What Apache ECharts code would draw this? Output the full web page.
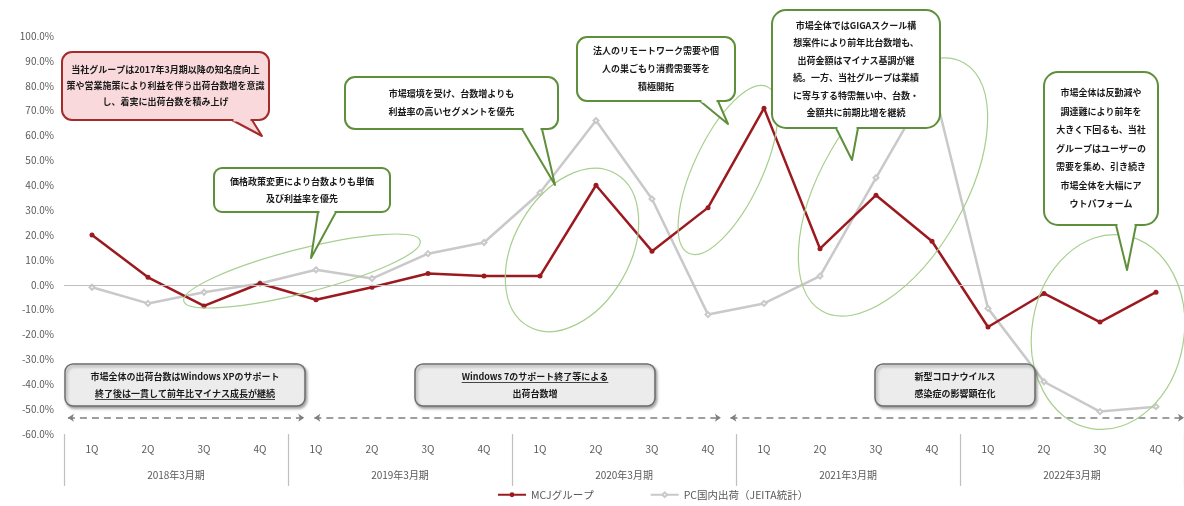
<!DOCTYPE html>
<html><head><meta charset="utf-8">
<script src="https://cdn.jsdelivr.net/npm/echarts@6/dist/echarts.min.js"></script>
<style>html,body{margin:0;padding:0;background:#fff}#c{width:1184px;height:506px}</style>
</head><body><div id="c"></div>
<script>
const quarters = ['1Q','2Q','3Q','4Q','1Q','2Q','3Q','4Q','1Q','2Q','3Q','4Q','1Q','2Q','3Q','4Q','1Q','2Q','3Q','4Q'];
const fiscalYears = ['2018年3月期','2019年3月期','2020年3月期','2021年3月期','2022年3月期'];
const seriesNames = ['MCJグループ','PC国内出荷（JEITA統計）'];
const mcj = [20, 3, -8.5, 0.5, -6, -1, 4.5, 3.5, 3.5, 40, 13.5, 31, 71, 14.5, 36, 17.5, -17, -3.5, -15, -3];
const pc  = [-1, -7.5, -3, 0.5, 6, 2.5, 12.5, 17, 37, 66, 34.5, -12, -7.5, 3.5, 43, 82, -9.5, -39, -51, -49];
const targetLevel = 56;
const periodLevel = -53.5;
const periodSpans = [[-0.43, 3.79], [3.97, 11.23], [11.4, 19.5]];
const noteTexts = [
  '当社グループは2017年3月期以降の知名度向上\n策や営業施策により利益を伴う出荷台数増を意識\nし、着実に出荷台数を積み上げ',
  '価格政策変更により台数よりも単価\n及び利益率を優先',
  '市場環境を受け、台数増よりも\n利益率の高いセグメントを優先',
  '法人のリモートワーク需要や個\n人の巣ごもり消費需要等を\n積極開拓',
  '市場全体ではGIGAスクール構\n想案件により前年比台数増も、\n出荷金額はマイナス基調が継\n続。一方、当社グループは業績\nに寄与する特需無い中、台数・\n金額共に前期比増を継続',
  '市場全体は反動減や\n調達難により前年を\n大きく下回るも、当社\nグループはユーザーの\n需要を集め、引き続き\n市場全体を大幅にア\nウトパフォーム'
];
const periodTexts = [
  '市場全体の出荷台数はWindows XPのサポート\n終了後は一貫して前年比マイナス成長が継続',
  'Windows 7のサポート終了等による\n出荷台数増',
  '新型コロナウイルス\n感染症の影響顕在化'
];

const FONT = '"Noto Sans CJK JP", "Noto Sans", sans-serif';
const GREEN = '#5e8f3a', RED = '#a52a2a';
const measureCtx = document.createElement('canvas').getContext('2d');
function textWidth(t, font) { measureCtx.font = font; return measureCtx.measureText(t).width; }

function bubble(b, text) {
  const els = [];
  els.push({type:'rect', z:10, shape:{x:b.x,y:b.y,width:b.w,height:b.h,r:b.r},
    style:{fill:b.fill, stroke:b.stroke, lineWidth:2}});
  if (b.tail) {
    els.push({type:'polygon', z:11, shape:{points:b.tail},
      style:{fill:b.fill, stroke:b.stroke, lineWidth:2, lineJoin:'round'}});
    els.push({type:'line', z:12, shape:{x1:b.tail[0][0]+1.5,y1:b.tail[0][1],x2:b.tail[1][0]-1.5,y2:b.tail[1][1]},
      style:{stroke:b.fill, lineWidth:3}});
  }
  els.push({type:'text', z:13, x:b.x+b.w/2, y:b.y+b.h/2,
    style:{text:text, fill:'#1a1a1a', font:'bold '+b.fs+'px '+FONT, align:'center', verticalAlign:'middle', lineHeight:b.lh}});
  return els;
}
function grayBox(b, text, underlineLine) {
  const font = 'bold 9px ' + FONT;
  const els = [
    {type:'rect', z:10, shape:{x:b.x,y:b.y,width:b.w,height:b.h,r:8},
      style:{fill:'#ececec', stroke:'#6e6e6e', lineWidth:1.5, shadowBlur:3, shadowOffsetX:1.5, shadowOffsetY:2, shadowColor:'rgba(0,0,0,0.35)'}},
    {type:'text', z:13, x:b.x+b.w/2, y:b.y+b.h/2,
      style:{text:text, fill:'#1a1a1a', font:font, align:'center', verticalAlign:'middle', lineHeight:17}}
  ];
  if (underlineLine !== undefined) {
    const lines = text.split('\n');
    const w = textWidth(lines[underlineLine], font);
    const cx = b.x + b.w/2;
    const cy = b.y + b.h/2 + (underlineLine - (lines.length-1)/2) * 17 + 6;
    els.push({type:'line', z:13, shape:{x1:cx-w/2, y1:cy, x2:cx+w/2, y2:cy}, style:{stroke:'#1a1a1a', lineWidth:0.8}});
  }
  return els;
}
function ell(cx, cy, rx, ry, rot) {
  return {type:'ellipse', z:9, x:cx, y:cy, rotation:rot, shape:{cx:0,cy:0,rx:rx,ry:ry},
    style:{fill:'none', stroke:'#a8cf8e', lineWidth:1.2}};
}

const graphics = [].concat(
  ell(302, 271, 122, 22, 0.25),
  ell(572, 250, 88, 58, 1.05),
  ell(728, 170, 92, 34, 1.13),
  ell(893, 187, 143, 72, 1.05),
  ell(1108, 332, 98, 76, 1.4),
  bubble({x:62,y:52,w:207,h:68,r:10,fill:'#f9d9dc',stroke:RED,fs:9,lh:16,tail:[[232,120],[252,120],[262,136]]}, noteTexts[0]),
  bubble({x:214,y:168,w:176,h:44,r:8,fill:'#fff',stroke:GREEN,fs:9,lh:17,tail:[[318,212],[336,212],[311,258]]}, noteTexts[1]),
  bubble({x:345,y:77,w:213,h:52,r:10,fill:'#fff',stroke:GREEN,fs:9,lh:18,tail:[[522,129],[542,129],[555,185]]}, noteTexts[2]),
  bubble({x:577,y:37,w:158,h:64,r:10,fill:'#fff',stroke:GREEN,fs:9,lh:18,tail:[[700,101],[718,101],[728,124]]}, noteTexts[3]),
  bubble({x:772,y:10,w:168,h:118,r:14,fill:'#fff',stroke:GREEN,fs:9,lh:17.5,tail:[[836,128],[858,128],[852,160]]}, noteTexts[4]),
  bubble({x:1044,y:72,w:114,h:153,r:14,fill:'#fff',stroke:GREEN,fs:9,lh:18.5,tail:[[1116,225],[1136,225],[1127,270]]}, noteTexts[5]),
  grayBox({x:65,y:364,w:240,h:42}, periodTexts[0], 1),
  grayBox({x:415,y:364,w:240,h:42}, periodTexts[1], 0),
  grayBox({x:875,y:364,w:160,h:42}, periodTexts[2])
);

const periodLines = periodSpans.map(s => [
  {coord:[s[0], periodLevel], symbol:'arrow'},
  {coord:[s[1], periodLevel], symbol:'arrow'}
]);

const chart = echarts.init(document.getElementById('c'), null, {renderer:'canvas'});
chart.setOption({
  animation:false,
  textStyle:{fontFamily:FONT},
  grid:{left:64, top:36, width:1124, height:398},
  legend:{bottom:1, left:492, itemGap:56, itemWidth:28, itemHeight:6,
    textStyle:{fontSize:10.5, color:'#595959'}, data:seriesNames},
  xAxis:[
    {type:'category', data:quarters, position:'bottom', boundaryGap:true,
      axisLine:{show:false}, axisTick:{show:false},
      axisLabel:{margin:10, fontSize:10, color:'#595959'}},
    {type:'category', data:fiscalYears, position:'bottom', boundaryGap:true,
      axisLine:{show:false}, axisTick:{show:true, length:52, lineStyle:{color:'#bfbfbf', width:1.2}},
      axisLabel:{margin:36, fontSize:10, color:'#595959'}},
    {type:'value', min:-0.5, max:19.5, show:false}
  ],
  yAxis:{type:'value', min:-60, max:100, interval:10,
    axisLine:{show:false}, axisTick:{show:false}, splitLine:{show:false},
    axisLabel:{margin:10, fontSize:10, color:'#595959', formatter:v => v.toFixed(1)+'%'}},
  graphic:graphics,
  series:[
    {type:'line', xAxisIndex:2, data:[], silent:true,
      markLine:{silent:true, label:{show:false},
        data:[
          [{coord:[-0.55, targetLevel], symbol:'arrow'},{coord:[19.5, targetLevel], symbol:'none'}]
        ],
        symbolSize:7,
        lineStyle:{color:'#c0392b', type:[8,6], width:2}}},
    {type:'line', xAxisIndex:2, data:[], silent:true,
      markLine:{silent:true, label:{show:false}, data:periodLines, symbolSize:6,
        lineStyle:{color:'#7f7f7f', type:[7,5], width:1.5}}},
    {name:seriesNames[1], type:'line', xAxisIndex:0, data:pc, z:3,
      symbol:'emptyDiamond', symbolSize:5, lineStyle:{color:'#c9c9c9', width:2.5},
      itemStyle:{color:'#c9c9c9'},
      markLine:{silent:true, symbol:'none', label:{show:false},
        data:[{yAxis:0}], lineStyle:{color:'#bfbfbf', type:'solid', width:1.2}}},
    {name:seriesNames[0], type:'line', xAxisIndex:0, data:mcj, z:4,
      symbol:'circle', symbolSize:5, lineStyle:{color:'#9c1a1f', width:2.5},
      itemStyle:{color:'#9c1a1f'}}
  ]
});
</script></body></html>
